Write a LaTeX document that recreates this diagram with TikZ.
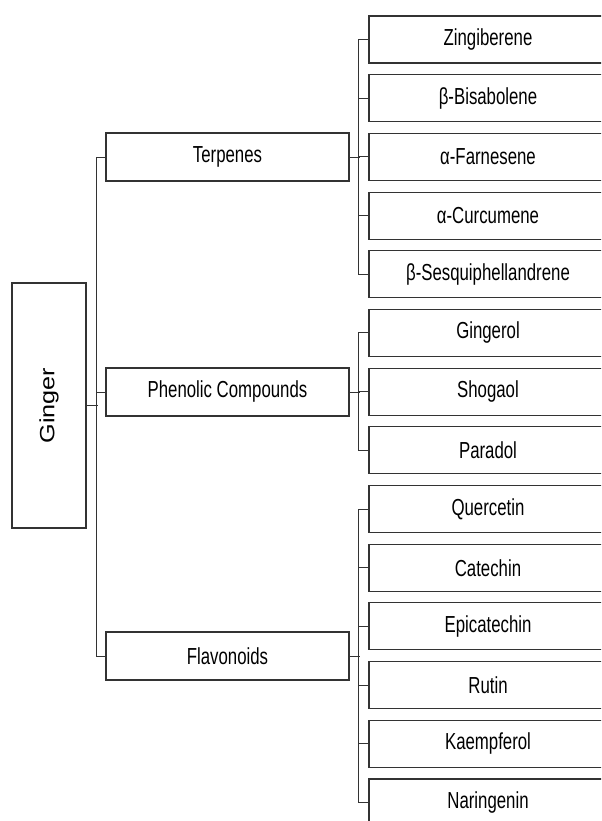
\documentclass[tikz,border=0pt]{standalone}
\usepackage{fontspec}
\setmainfont{Liberation Sans}
\usepackage{graphicx}
\usepackage{tikz}
\usetikzlibrary{positioning}
\tikzstyle{item}=[rectangle, draw=black!80, line width=0.8pt, text centered, text=black, minimum width=178.5pt, minimum height=35.25pt, inner sep=0pt, font=\fontsize{12.6}{14}\selectfont]
\tikzstyle{group}=[item, minimum width=182.25pt, minimum height=36pt]
\tikzstyle{root}=[item, minimum width=55.5pt, minimum height=183.75pt]
\tikzstyle{link}=[draw=black!80, line width=0.75pt]
\newcommand{\tall}[1]{\scalebox{1}[1.38]{#1}}

\begin{document}
\begin{tikzpicture}[x=0.75pt, y=-0.75pt]
    \useasboundingbox (0,0) rectangle (601,821);
    \clip (0,0) rectangle (601,821);

        \node(ginger)[root] at (49,405.5) {\rotatebox{90}{\scalebox{1.22}[1]{\fontsize{15.5}{18}\selectfont Ginger}}};

        \node(terp)[group] at (227.5,157) {\tall{Terpenes}};
        \node(phen)[group] at (227.5,392) {\tall{Phenolic Compounds}};
        \node(flav)[group] at (227.5,656) {\tall{Flavonoids}};

        \node(chem1)[item] at (488,39.5) {\tall{Zingiberene}};
        \foreach \name [count=\x from 2] in {β-Bisabolene, α-Farnesene, α-Curcumene, β-Sesquiphellandrene, Gingerol, Shogaol, Paradol, Quercetin, Catechin, Epicatechin, Rutin, Kaempferol, Naringenin}{
            \pgfmathtruncatemacro\lastx{\x-1}
            \node(chem\x)[item, below=7.97pt of chem\lastx]{\tall{\name}};
        };

        \draw [link] (ginger.east) -- ++(11,0);
        \draw [link] (terp.west) -- ++(-9,0) |- (flav.west);
        \draw [link] (phen.west) -- ++(-9,0);

        \draw [link] (terp.east) -- ++(10,0);
        \draw [link] (phen.east) -- ++(10,0);
        \draw [link] (flav.east) -- ++(10,0);

        \draw [link] (chem1.west) -- ++(-10,0) |- (chem5.west);
        \draw [link] (chem6.west) -- ++(-10,0) |- (chem8.west);
        \draw [link] (chem9.west) -- ++(-10,0) |- (chem14.west);
        \foreach \x in {2,3,4,7,10,11,12,13}{
            \draw [link] (chem\x.west) -- ++(-10,0);
        };

\end{tikzpicture}
\end{document}
